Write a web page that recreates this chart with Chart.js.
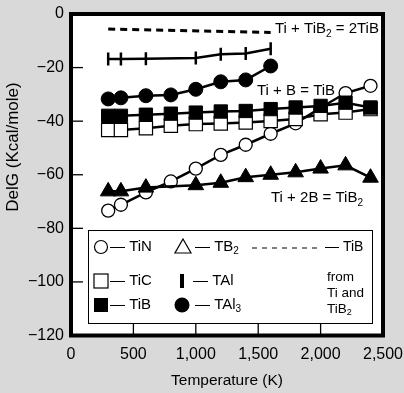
<!DOCTYPE html>
<html>
<head>
<meta charset="utf-8">
<script src="https://cdn.jsdelivr.net/npm/chart.js@4.4.1/dist/chart.umd.min.js"></script>
<style>
  html, body { margin: 0; padding: 0; background: #d9d9d9; }
  canvas { display: block; }
</style>
</head>
<body>
<canvas id="chart" width="404" height="393"></canvas>
<script>
// valores (DelG em Kcal/mole)
const tempsMain = [298, 400, 600, 800, 1000, 1200, 1400, 1600, 1800, 2000, 2200, 2400];
const tiN  = [-73.4, -71.2, -66.6, -62.5, -57.7, -52.6, -48.8, -44.7, -40.8, -35.0, -29.5, -26.8];
const tiC  = [-43.3, -43.3, -42.6, -41.7, -41.1, -40.9, -40.5, -39.9, -39.2, -37.4, -36.8, -35.5];
const tiB  = [-38.0, -38.0, -37.6, -37.2, -36.8, -36.4, -36.2, -35.5, -34.9, -34.3, -33.1, -34.9];

const tempsTiB2 = [298, 400, 600, 1000, 1200, 1400, 1600, 1800, 2000, 2200, 2400];
const tiB2 = [-66.2, -66.2, -64.8, -63.9, -63.0, -60.9, -60.0, -59.1, -57.7, -56.5, -61.1];

const tempsTiAl = [298, 400, 600, 1000, 1200, 1400, 1600];
const tiAl = [-16.8, -16.8, -16.7, -16.4, -15.0, -14.7, -13.0];

const tempsTiAl3 = [298, 400, 600, 800, 1000, 1200, 1400, 1600];
const tiAl3 = [-31.7, -31.3, -30.5, -30.2, -28.1, -25.3, -24.6, -19.4];

const tempsDash = [298, 1600];
const tiBfromTiB2 = [-5.6, -6.9];

const xTicks = [500, 1000, 1500, 2000];
const yTicks = [-20, -40, -60, -80, -100];

const FONT = '"Liberation Sans", Arial, sans-serif';
const BG = '#d9d9d9';

function pts(xs, ys) { return xs.map((x, i) => ({ x: x, y: ys[i] })); }

// texto com subscrito: partes [texto, ehSub]
function drawParts(ctx, parts, x, y, size) {
    let cx = x;
    parts.forEach(p => {
        const sub = p[1];
        ctx.font = (sub ? Math.round(size * 0.68) : size) + 'px ' + FONT;
        ctx.fillText(p[0], cx, sub ? y + size * 0.25 : y);
        cx += ctx.measureText(p[0]).width;
    });
}

const decorPlugin = {
    id: 'decor',
    beforeDraw(chart) {
        const { ctx, chartArea: a } = chart;
        ctx.save();
        ctx.fillStyle = BG;
        ctx.fillRect(0, 0, chart.width, chart.height);
        ctx.fillStyle = '#fff';
        ctx.fillRect(a.left, a.top, a.right - a.left, a.bottom - a.top);
        ctx.restore();
    },
    afterDatasetsDraw(chart) {
        const { ctx, chartArea: a, scales } = chart;
        const xs = scales.x, ys = scales.y;
        ctx.save();
        ctx.strokeStyle = '#000';
        ctx.fillStyle = '#000';

        // marcas para dentro
        ctx.lineWidth = 1.3;
        xTicks.forEach(v => {
            const px = xs.getPixelForValue(v);
            ctx.beginPath(); ctx.moveTo(px, a.bottom); ctx.lineTo(px, a.bottom - 12); ctx.stroke();
        });
        yTicks.forEach(v => {
            const py = ys.getPixelForValue(v);
            ctx.beginPath(); ctx.moveTo(a.left, py); ctx.lineTo(a.left + 12, py); ctx.stroke();
        });

        // moldura grossa
        ctx.lineWidth = 4;
        ctx.strokeRect(a.left, a.top, a.right - a.left, a.bottom - a.top);

        // reacoes
        ctx.textBaseline = 'alphabetic';
        ctx.textAlign = 'left';
        drawParts(ctx, [['Ti + TiB', 0], ['2', 1], [' = 2TiB', 0]], 275, 33, 15);
        drawParts(ctx, [['Ti + B = TiB', 0]], 257, 95, 15);
        drawParts(ctx, [['Ti + 2B = TiB', 0], ['2', 1]], 271, 202, 15);

        // titulo do eixo y
        ctx.save();
        ctx.translate(13, 147);
        ctx.rotate(-Math.PI / 2);
        ctx.textAlign = 'center';
        ctx.textBaseline = 'middle';
        ctx.font = '17px ' + FONT;
        ctx.fillText('DelG (Kcal/mole)', 0, 0);
        ctx.restore();

        // legenda
        ctx.lineWidth = 1;
        ctx.fillStyle = '#fff';
        ctx.fillRect(88, 230, 284, 93);
        ctx.strokeRect(88.5, 230.5, 284, 93);
        ctx.fillStyle = '#000';
        ctx.strokeStyle = '#000';
        ctx.lineWidth = 1.2;
        const r1 = 247, r2 = 281, r3 = 305;
        // coluna 1
        ctx.beginPath(); ctx.arc(101, r1, 6.5, 0, Math.PI * 2); ctx.stroke();
        ctx.strokeRect(94, r2 - 7, 14, 14);
        ctx.fillRect(94, r3 - 7, 14, 14);
        ctx.textBaseline = 'middle';
        drawParts(ctx, [['\u2014 TiN', 0]], 110, r1, 15);
        drawParts(ctx, [['\u2014 TiC', 0]], 110, r2, 15);
        drawParts(ctx, [['\u2014 TiB', 0]], 110, r3, 15);
        // coluna 2
        ctx.beginPath();
        ctx.moveTo(183, r1 - 8); ctx.lineTo(191, r1 + 6); ctx.lineTo(175, r1 + 6); ctx.closePath(); ctx.stroke();
        ctx.fillRect(180, r2 - 7, 4, 14);
        ctx.beginPath(); ctx.arc(182, r3, 7.5, 0, Math.PI * 2); ctx.fill();
        drawParts(ctx, [['\u2014 TB', 0], ['2', 1]], 195, r1, 15);
        drawParts(ctx, [['\u2014 TAl', 0]], 193, r2, 15);
        drawParts(ctx, [['\u2014 TAl', 0], ['3', 1]], 195, r3, 15);
        // coluna 3
        ctx.setLineDash([5, 5]);
        ctx.lineWidth = 1;
        ctx.beginPath(); ctx.moveTo(252, 248); ctx.lineTo(320, 248); ctx.stroke();
        ctx.setLineDash([]);
        drawParts(ctx, [['\u2014 TiB', 0]], 325, r1, 14);
        drawParts(ctx, [['from', 0]], 327, 277, 13.5);
        drawParts(ctx, [['Ti and', 0]], 327, 293, 13.5);
        drawParts(ctx, [['TiB', 0], ['2', 1]], 327, 309, 13.5);
        ctx.restore();
    }
};

const line = { borderColor: '#000', borderWidth: 2.5, pointBorderColor: '#000', tension: 0 };

new Chart(document.getElementById('chart'), {
    type: 'line',
    data: {
        datasets: [
            { ...line, label: 'TiB', data: pts(tempsMain, tiB), pointStyle: 'rect', pointRadius: 9.4,
              pointBackgroundColor: '#000', pointBorderWidth: 1, order: 1 },
            { ...line, label: 'TiC', data: pts(tempsMain, tiC), pointStyle: 'rect', pointRadius: 9.4,
              pointBackgroundColor: '#fff', pointBorderWidth: 1.2, order: 2 },
            { ...line, label: 'TiN', data: pts(tempsMain, tiN), pointStyle: 'circle', pointRadius: 6.5,
              pointBackgroundColor: '#fff', pointBorderWidth: 1.3, order: 3 },
            { ...line, label: 'TiB2', data: pts(tempsTiB2, tiB2), pointStyle: 'triangle', pointRadius: 9,
              pointBackgroundColor: '#000', pointBorderWidth: 1, order: 0 },
            { ...line, label: 'TiAl', data: pts(tempsTiAl, tiAl), pointStyle: 'line', pointRotation: 90,
              pointRadius: 6.5, pointBorderWidth: 2.5, order: 4 },
            { ...line, label: 'TiAl3', data: pts(tempsTiAl3, tiAl3), pointStyle: 'circle', pointRadius: 7,
              pointBackgroundColor: '#000', pointBorderWidth: 1, order: 5 },
            { ...line, label: 'TiB from Ti and TiB2', data: pts(tempsDash, tiBfromTiB2), borderWidth: 3,
              borderDash: [7, 5], pointRadius: 0, order: 6 }
        ]
    },
    options: {
        responsive: false,
        animation: false,
        events: [],
        layout: { padding: { top: 14, right: 21, left: 0, bottom: 0 } },
        plugins: { legend: { display: false }, tooltip: { enabled: false } },
        scales: {
            x: {
                type: 'linear', min: 0, max: 2500,
                grid: { display: false, drawTicks: false },
                border: { display: false },
                ticks: { stepSize: 500, padding: 9, color: '#000', font: { family: FONT, size: 16 },
                         maxRotation: 0, callback: v => v.toLocaleString('en-US') },
                title: { display: true, text: 'Temperature (K)', color: '#000', padding: { top: 0, bottom: 3 },
                         font: { family: FONT, size: 15.5 } },
                afterFit: s => { s.height = 57.5; s.paddingLeft = 0; s.paddingRight = 0; }
            },
            y: {
                type: 'linear', min: -120, max: 0,
                grid: { display: false, drawTicks: false },
                border: { display: false },
                ticks: { stepSize: 20, padding: 7, color: '#000', font: { family: FONT, size: 16 },
                         callback: v => v === 0 ? '0' : '\u2212' + Math.abs(v) },
                afterFit: s => { s.width = 71; s.paddingTop = 0; s.paddingBottom = 0; }
            }
        }
    },
    plugins: [decorPlugin]
});
</script>
</body>
</html>
